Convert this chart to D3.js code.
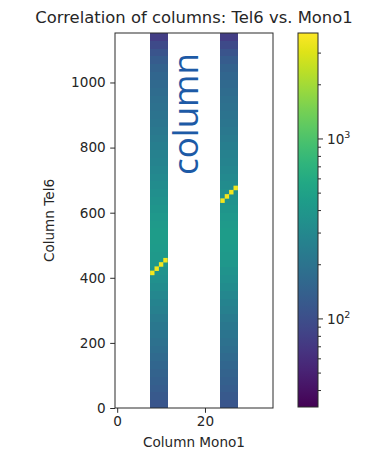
<!DOCTYPE html>
<html>
<head>
<meta charset="utf-8">
<script src="https://cdn.jsdelivr.net/npm/d3@7"></script>
<style>
  html, body { margin: 0; padding: 0; background: #ffffff; }
  svg { display: block; }
  text { font-family: "DejaVu Sans", sans-serif; fill: #262626; }
</style>
</head>
<body>
<svg id="chart" width="372" height="451"></svg>
<script>
// Mono1 columns that have hits, in two groups of four
const groupA = [8, 9, 10, 11];
const groupB = [24, 25, 26, 27];

// Tel6 row bins (width 24) and hit counts per bin for each active Mono1 column
const rowBinWidth = 24;
const rowCounts = [
  115, 122, 130, 138, 147, 155, 165, 178, 190, 203, 218, 235,
  255, 275, 298, 325, 350, 380, 405, 425, 440, 448, 445, 432,
  412, 390, 368, 346, 325, 306, 290, 275, 260, 245, 232, 220,
  210, 200, 190, 181, 172, 163, 153, 142, 128, 112, 95, 78
];

// Strongly correlated cells: Mono1 column, Tel6 row range, counts
const peakCols  = [8, 9, 10, 11, 24, 25, 26, 27];
const peakRow0  = [408, 421, 434, 447, 630, 643, 656, 669];
const peakRow1  = [422, 435, 448, 461, 644, 657, 670, 683];
const peakCount = [3600, 3600, 3600, 3600, 3600, 3600, 3600, 3600];

// Axis ticks
const xTicks = [0, 20];
const yTicks = [0, 200, 400, 600, 800, 1000];
const cbMajor = [100, 1000];
const cbMinor = [40, 50, 60, 70, 80, 90, 200, 300, 400, 500, 600, 700, 800, 900, 2000, 3000];
const cbDomain = [32.4, 3880];

const svg = d3.select("#chart");

const plot = { left: 115, right: 273, top: 33, bottom: 408 };
const x = d3.scaleLinear().domain([-0.5, 35.5]).range([plot.left, plot.right]);
const y = d3.scaleLinear().domain([0, 1152]).range([plot.bottom, plot.top]);
const color = d3.scaleSequentialLog(d3.interpolateViridis).domain(cbDomain);

// Title
svg.append("text")
  .attr("x", 194).attr("y", 23)
  .attr("text-anchor", "middle")
  .style("font-size", "16.4px")
  .text("Correlation of columns: Tel6 vs. Mono1");

// Heatmap cells
const cells = [];
[...groupA, ...groupB].forEach(c => {
  rowCounts.forEach((v, i) => {
    cells.push({ col: c, r0: i * rowBinWidth, r1: (i + 1) * rowBinWidth, v });
  });
});
svg.append("g").attr("shape-rendering", "crispEdges")
  .selectAll("rect").data(cells).join("rect")
  .attr("x", d => x(d.col - 0.5))
  .attr("width", d => x(d.col + 0.5) - x(d.col - 0.5))
  .attr("y", d => y(d.r1))
  .attr("height", d => y(d.r0) - y(d.r1))
  .attr("fill", d => color(d.v));

const peaks = peakCols.map((c, i) => ({ col: c, r0: peakRow0[i], r1: peakRow1[i], v: peakCount[i] }));
svg.append("g").selectAll("rect").data(peaks).join("rect")
  .attr("x", d => x(d.col - 0.5))
  .attr("width", d => x(d.col + 0.5) - x(d.col - 0.5))
  .attr("y", d => y(d.r1))
  .attr("height", d => y(d.r0) - y(d.r1))
  .attr("fill", d => color(d.v));

// Frame
svg.append("rect")
  .attr("x", plot.left).attr("y", plot.top)
  .attr("width", plot.right - plot.left).attr("height", plot.bottom - plot.top)
  .attr("fill", "none").attr("stroke", "#2b2b2b").attr("stroke-width", 1);

// Axes
const yAxis = d3.axisLeft(y).tickValues(yTicks).tickFormat(d3.format("d")).tickSize(4.8).tickPadding(4.5);
const gy = svg.append("g").attr("transform", `translate(${plot.left},0)`).call(yAxis);
const xAxis = d3.axisBottom(x).tickValues(xTicks).tickFormat(d3.format("d")).tickSize(4.8).tickPadding(4);
const gx = svg.append("g").attr("transform", `translate(0,${plot.bottom})`).call(xAxis);
[gx, gy].forEach(g => {
  g.select(".domain").remove();
  g.selectAll("line").attr("stroke", "#2b2b2b");
  g.selectAll("text").style("font-size", "13.6px").style("font-family", "DejaVu Sans").attr("fill", "#262626");
});

// Axis labels
svg.append("text")
  .attr("x", 194).attr("y", 447)
  .attr("text-anchor", "middle")
  .style("font-size", "13.6px")
  .text("Column Mono1");
svg.append("text")
  .attr("transform", `translate(54,${(plot.top + plot.bottom) / 2}) rotate(-90)`)
  .attr("text-anchor", "middle")
  .style("font-size", "13.6px")
  .text("Column Tel6");

// Colour bar
const cb = { left: 298, right: 318, top: 33, bottom: 407 };
const cy = d3.scaleLog().domain(cbDomain).range([cb.bottom, cb.top]);
const defs = svg.append("defs");
const grad = defs.append("linearGradient").attr("id", "cbgrad")
  .attr("x1", 0).attr("y1", 1).attr("x2", 0).attr("y2", 0);
d3.range(0, 1.0001, 0.05).forEach(t => {
  grad.append("stop").attr("offset", t).attr("stop-color", d3.interpolateViridis(t));
});
svg.append("rect")
  .attr("x", cb.left).attr("y", cb.top)
  .attr("width", cb.right - cb.left).attr("height", cb.bottom - cb.top)
  .attr("fill", "url(#cbgrad)")
  .attr("stroke", "#2b2b2b").attr("stroke-width", 1);

const cbg = svg.append("g");
cbg.selectAll("line.minor").data(cbMinor).join("line")
  .attr("class", "minor")
  .attr("x1", cb.right).attr("x2", cb.right + 3)
  .attr("y1", d => cy(d)).attr("y2", d => cy(d))
  .attr("stroke", "#2b2b2b");
cbg.selectAll("line.major").data(cbMajor).join("line")
  .attr("class", "major")
  .attr("x1", cb.right).attr("x2", cb.right + 5)
  .attr("y1", d => cy(d)).attr("y2", d => cy(d))
  .attr("stroke", "#2b2b2b");
const lab = cbg.selectAll("text").data(cbMajor).join("text")
  .attr("x", cb.right + 9)
  .attr("y", d => cy(d) + 5)
  .style("font-size", "13.6px");
lab.append("tspan").text("10");
lab.append("tspan")
  .attr("dy", -6)
  .style("font-size", "9.5px")
  .text(d => String(Math.round(Math.log10(d))));

// Annotation
svg.append("text")
  .attr("transform", "translate(198,175) rotate(-90)")
  .attr("text-anchor", "start")
  .style("font-family", "'Open Sans', sans-serif")
  .style("font-size", "35px")
  .style("fill", "#1d5aa6")
  .text("column");
</script>
</body>
</html>
